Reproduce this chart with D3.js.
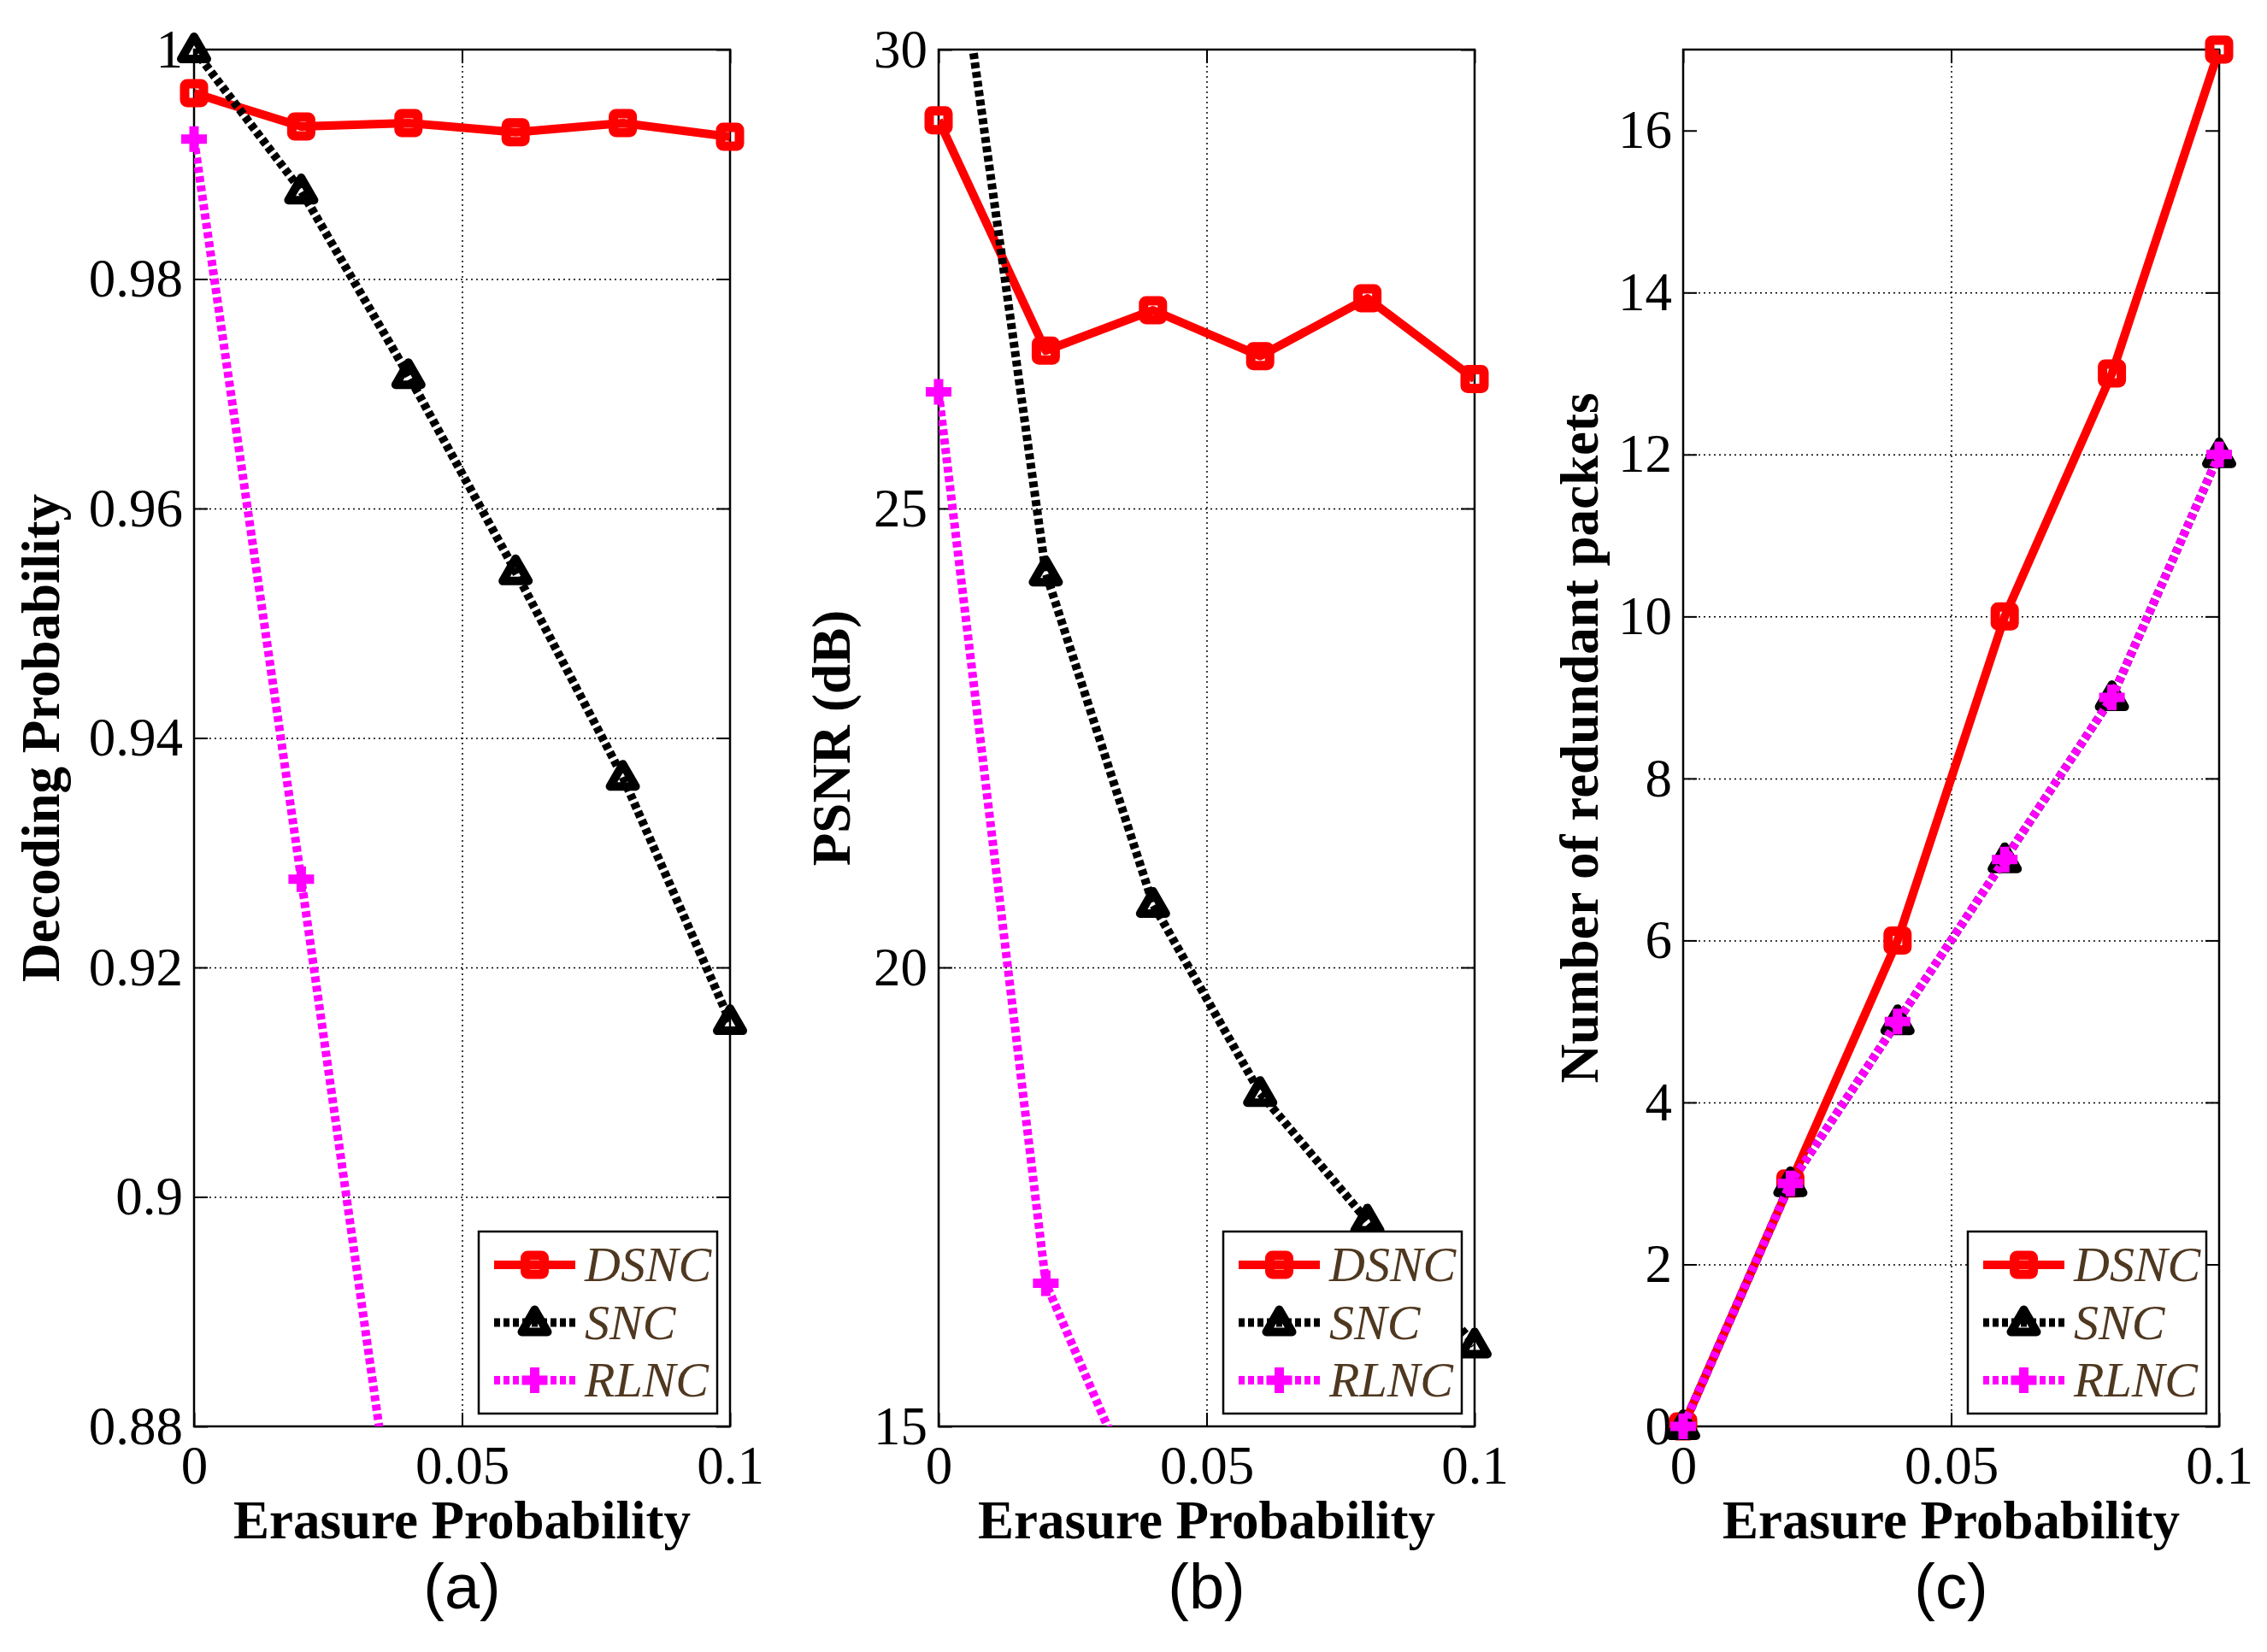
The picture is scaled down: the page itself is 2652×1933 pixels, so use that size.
<!DOCTYPE html>
<html>
<head>
<meta charset="utf-8">
<script src="https://cdn.jsdelivr.net/npm/d3@7"></script>
<style>
  body { margin: 0; background: #fff; }
  .tick text { font-family: "Liberation Serif", "Times New Roman", serif; font-size: 63px; fill: #000; }
</style>
</head>
<body>
<div id="chart"></div>
<script>
// erasure probabilities shared by all three panels
const erasure = [0, 0.02, 0.04, 0.06, 0.08, 0.1]
const xTicks = [0, 0.05, 0.1]

// (a) decoding probability
const decodeDSNC = [0.9962, 0.9933, 0.9936, 0.9928, 0.9936, 0.9924]
const decodeSNC = [1.0, 0.9877, 0.9716, 0.9545, 0.9366, 0.9153]
const decodeRLNC = [0.9922, 0.9277, 0.862]
const decodeTicks = [0.88, 0.9, 0.92, 0.94, 0.96, 0.98, 1]

// (b) PSNR in dB
const psnrDSNC = [29.23, 26.72, 27.16, 26.66, 27.29, 26.41]
const psnrSNC = [32.7, 24.30, 20.69, 18.63, 17.24, 15.89]
const psnrRLNC = [26.27, 16.56, 13.85]
const psnrTicks = [15, 20, 25, 30]

// (c) number of redundant packets
const redundantDSNC = [0, 3, 6, 10, 13, 17]
const redundantSNC = [0, 3, 5, 7, 9, 12]
const redundantRLNC = [0, 3, 5, 7, 9, 12]
const redundantTicks = [0, 2, 4, 6, 8, 10, 12, 14, 16]

const seriesNames = ["DSNC", "SNC", "RLNC"]

const width = 2652
const height = 1933
const plotTop = 58, plotBottom = 1669
const plotW = 627
const lefts = [227, 1098, 1969]

const styles = {
  DSNC: { color: "#ff0000", dash: null, marker: "square" },
  SNC: { color: "#000000", dash: "7,4", marker: "triangle" },
  RLNC: { color: "#ff00ff", dash: "7,4", marker: "plus" }
}

const panels = [
  { id: "a", ylabel: "Decoding Probability", yDomain: [0.88, 1], yTicks: decodeTicks,
    data: [decodeDSNC, decodeSNC, decodeRLNC], labelX: 69 },
  { id: "b", ylabel: "PSNR (dB)", yDomain: [15, 30], yTicks: psnrTicks,
    data: [psnrDSNC, psnrSNC, psnrRLNC], labelX: 994 },
  { id: "c", ylabel: "Number of redundant packets", yDomain: [0, 17], yTicks: redundantTicks,
    data: [redundantDSNC, redundantSNC, redundantRLNC], labelX: 1869 }
]

const svg = d3.select("#chart").append("svg")
  .attr("width", width)
  .attr("height", height)
  .style("display", "block")

svg.append("rect").attr("width", width).attr("height", height).attr("fill", "#fff")

function drawMarker(g, type, color) {
  if (type === "square") {
    g.append("rect")
      .attr("x", -11).attr("y", -11).attr("width", 22).attr("height", 22)
      .attr("rx", 3)
      .attr("fill", "none").attr("stroke", color).attr("stroke-width", 11)
  } else if (type === "triangle") {
    g.append("path")
      .attr("d", "M0,-15L-15,11L15,11Z")
      .attr("fill", "none").attr("stroke", color).attr("stroke-width", 10)
      .attr("stroke-linejoin", "round")
  } else {
    g.append("path")
      .attr("d", "M-15,0H15M0,-15V15")
      .attr("fill", "none").attr("stroke", color).attr("stroke-width", 11)
  }
}

panels.forEach((p, i) => {
  const left = lefts[i]
  const x = d3.scaleLinear().domain([0, 0.1]).range([left, left + plotW])
  const y = d3.scaleLinear().domain(p.yDomain).range([plotBottom, plotTop])
  const g = svg.append("g")

  // dotted grid
  g.append("g")
    .attr("transform", `translate(0,${plotBottom})`)
    .call(d3.axisBottom(x).tickValues(xTicks.slice(1, -1)).tickSize(-(plotBottom - plotTop)).tickFormat(""))
    .call(s => s.select(".domain").remove())
    .selectAll("line").attr("stroke-dasharray", "2,4").attr("stroke-width", 1.5)
  g.append("g")
    .attr("transform", `translate(${left},0)`)
    .call(d3.axisLeft(y).tickValues(p.yTicks.slice(1, -1)).tickSize(-plotW).tickFormat(""))
    .call(s => s.select(".domain").remove())
    .selectAll("line").attr("stroke-dasharray", "2,4").attr("stroke-width", 1.5)

  // axes with inward ticks on all four sides
  g.append("g")
    .attr("transform", `translate(0,${plotBottom})`)
    .call(d3.axisBottom(x).tickValues(xTicks).tickSize(-16).tickPadding(22).tickFormat(d => String(d)))
    .call(s => s.select(".domain").remove())
    .selectAll("line").attr("stroke-width", 2)
  g.append("g")
    .attr("transform", `translate(0,${plotTop})`)
    .call(d3.axisTop(x).tickValues(xTicks).tickSize(-16).tickFormat(""))
    .call(s => s.select(".domain").remove())
    .selectAll("line").attr("stroke-width", 2)
  g.append("g")
    .attr("transform", `translate(${left},0)`)
    .call(d3.axisLeft(y).tickValues(p.yTicks).tickSize(-16).tickPadding(13).tickFormat(d => String(d)))
    .call(s => s.select(".domain").remove())
    .selectAll("line").attr("stroke-width", 2)
  g.append("g")
    .attr("transform", `translate(${left + plotW},0)`)
    .call(d3.axisRight(y).tickValues(p.yTicks).tickSize(-16).tickFormat(""))
    .call(s => s.select(".domain").remove())
    .selectAll("line").attr("stroke-width", 2)

  g.append("rect")
    .attr("x", left).attr("y", plotTop).attr("width", plotW).attr("height", plotBottom - plotTop)
    .attr("fill", "none").attr("stroke", "#000").attr("stroke-width", 2.5)

  // labels
  g.append("text")
    .attr("transform", `translate(${p.labelX},${(plotTop + plotBottom) / 2}) rotate(-90)`)
    .attr("text-anchor", "middle")
    .style("font-family", "'Liberation Serif', serif").style("font-weight", "bold").style("font-size", "63px")
    .text(p.ylabel)
  g.append("text")
    .attr("x", left + plotW / 2).attr("y", 1800)
    .attr("text-anchor", "middle")
    .style("font-family", "'Liberation Serif', serif").style("font-weight", "bold").style("font-size", "63px")
    .text("Erasure Probability")
  g.append("text")
    .attr("x", left + plotW / 2).attr("y", 1882)
    .attr("text-anchor", "middle")
    .style("font-family", "'Liberation Sans', Arial, sans-serif").style("font-size", "74px")
    .text(`(${p.id})`)

  // clipped lines
  svg.append("clipPath").attr("id", "clip-" + p.id)
    .append("rect").attr("x", left).attr("y", plotTop).attr("width", plotW).attr("height", plotBottom - plotTop)

  const line = d3.line().x((d, k) => x(erasure[k])).y(d => y(d))

  seriesNames.forEach((name, k) => {
    const st = styles[name]
    const vals = p.data[k]
    g.append("path")
      .attr("clip-path", `url(#clip-${p.id})`)
      .attr("d", line(vals))
      .attr("fill", "none")
      .attr("stroke", st.color)
      .attr("stroke-width", 10)
      .attr("stroke-dasharray", st.dash)
      .attr("stroke-linejoin", "round")

    vals.forEach((v, j) => {
      if (v < p.yDomain[0] - 1e-9 || v > p.yDomain[1] + 1e-9) return
      const mg = g.append("g").attr("transform", `translate(${x(erasure[j])},${y(v)})`)
      drawMarker(mg, st.marker, st.color)
    })
  })

  // legend
  const lx = left + 333, ly = 1441
  const leg = g.append("g")
  leg.append("rect")
    .attr("x", lx).attr("y", ly).attr("width", 279).attr("height", 213)
    .attr("fill", "#fff").attr("stroke", "#000").attr("stroke-width", 2.5)
  seriesNames.forEach((name, k) => {
    const st = styles[name]
    const ry = ly + 39 + k * 67.5
    leg.append("line")
      .attr("x1", lx + 18).attr("x2", lx + 113).attr("y1", ry).attr("y2", ry)
      .attr("stroke", st.color).attr("stroke-width", 10)
      .attr("stroke-dasharray", st.dash)
    drawMarker(leg.append("g").attr("transform", `translate(${lx + 65.5},${ry})`), st.marker, st.color)
    leg.append("text")
      .attr("x", lx + 124).attr("y", ry + 19)
      .style("font-family", "'Liberation Serif', serif").style("font-style", "italic").style("font-size", "58px")
      .attr("fill", "#4f3820")
      .text(name)
  })
})
</script>
</body>
</html>
